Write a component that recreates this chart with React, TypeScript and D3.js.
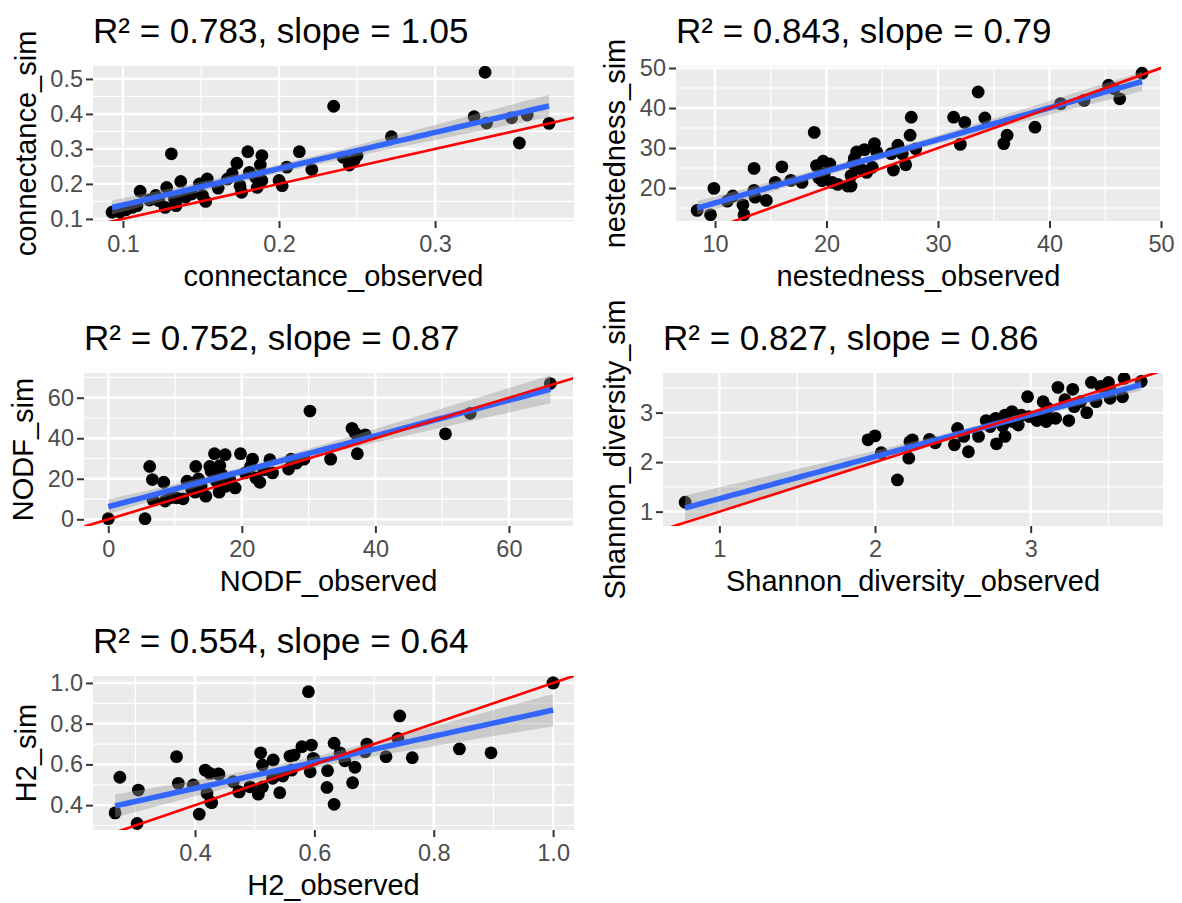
import React, { useEffect, useRef } from 'react';
import * as d3 from 'd3';

// ---- data ----
const connectanceObserved = [
  0.093, 0.098, 0.102, 0.106, 0.109, 0.111, 0.117, 0.121, 0.123, 0.127, 0.128, 0.131, 0.133,
  0.134, 0.137, 0.14, 0.144, 0.149, 0.151, 0.153, 0.154, 0.161, 0.167, 0.17, 0.173, 0.175,
  0.176, 0.18, 0.181, 0.185, 0.186, 0.188, 0.189, 0.189, 0.2, 0.202, 0.205, 0.213, 0.221,
  0.235, 0.241, 0.245, 0.248, 0.25, 0.272, 0.325, 0.332, 0.333, 0.349, 0.354, 0.359, 0.373,
];
const connectanceSim = [
  0.119, 0.119, 0.126, 0.133, 0.138, 0.179, 0.154, 0.167, 0.152, 0.133, 0.19, 0.286, 0.157,
  0.138, 0.207, 0.162, 0.171, 0.2, 0.167, 0.15, 0.214, 0.188, 0.214, 0.229, 0.259, 0.195,
  0.176, 0.292, 0.233, 0.219, 0.19, 0.254, 0.281, 0.21, 0.21, 0.195, 0.248, 0.292, 0.241,
  0.422, 0.276, 0.254, 0.267, 0.281, 0.335, 0.392, 0.519, 0.374, 0.389, 0.317, 0.397, 0.373,
];

const nestednessObserved = [
  8.4, 9.6, 9.9, 11.1, 11.6, 12.5, 12.6, 13.5, 13.5, 13.6, 14.6, 15.4, 16.0, 16.8, 17.8, 18.9,
  19.1, 19.3, 19.7, 19.6, 19.8, 20.3, 20.5, 21.0, 21.9, 22.2, 22.2, 22.4, 22.5, 22.7, 23.1, 23.4,
  23.6, 24.1, 24.3, 24.5, 25.8, 26.0, 26.4, 26.8, 27.1, 27.5, 27.6, 28.0, 31.4, 32.0, 32.4, 33.6,
  34.2, 35.9, 36.2, 38.7, 41.0, 43.1, 45.3, 45.8, 46.3, 48.3,
];
const nestednessSim = [
  14.4, 13.3, 19.9, 16.7, 18.0, 15.8, 13.3, 24.9, 19.4, 17.7, 16.9, 21.4, 25.3, 21.9, 21.4, 33.9,
  25.6, 22.6, 26.7, 21.8, 23.5, 26.0, 21.4, 20.9, 20.5, 20.5, 23.1, 26.0, 27.4, 29.0, 24.7, 29.6,
  23.9, 25.2, 31.1, 29.0, 28.6, 24.5, 30.7, 28.6, 25.8, 33.2, 37.7, 29.8, 37.7, 30.9, 36.4, 44.0,
  37.5, 31.1, 33.2, 35.2, 41.1, 41.9, 45.7, 44.8, 42.3, 48.7,
];

const nodfObserved = [
  0, 5.5, 6.2, 6.6, 6.7, 8.3, 8.5, 9.3, 10.2, 11.2, 11.8, 12.5, 13.0, 13.1, 13.5, 13.9, 14.6,
  15.2, 15.4, 15.9, 16.2, 16.6, 16.7, 17.0, 17.5, 17.6, 18.2, 19.0, 19.8, 20.5, 21.3, 21.6, 22.1,
  22.7, 23.3, 24.2, 24.6, 27.0, 27.4, 28.2, 29.3, 30.2, 33.3, 36.5, 37.0, 37.3, 38.5, 50.5, 54.2,
  66.2,
];
const nodfSim = [
  0.3, 0.3, 26.1, 19.6, 9.5, 18.3, 9.0, 10.6, 10.6, 10.1, 18.8, 14.7, 13.4, 26.1, 19.9, 16.3, 11.4,
  26.1, 23.7, 32.4, 18.8, 13.4, 26.5, 22.1, 31.9, 16.3, 19.6, 15.5, 32.4, 22.9, 26.1, 29.7, 20.4,
  18.3, 24.5, 29.4, 22.9, 24.8, 29.7, 27.8, 29.7, 53.4, 29.7, 44.9, 42.5, 32.4, 41.7, 42.2, 52.3,
  67.0,
];

const shannonObserved = [
  0.78, 1.955, 2.0, 2.04, 2.144, 2.217, 2.224, 2.24, 2.35, 2.387, 2.51, 2.53, 2.57, 2.6, 2.665,
  2.714, 2.74, 2.775, 2.78, 2.82, 2.835, 2.835, 2.88, 2.884, 2.92, 2.94, 2.98, 2.99, 3.04, 3.08,
  3.09, 3.1, 3.11, 3.16, 3.175, 3.22, 3.245, 3.27, 3.28, 3.32, 3.36, 3.39, 3.42, 3.45, 3.5, 3.51,
  3.51, 3.59, 3.6, 3.71,
];
const shannonSim = [
  1.19, 2.45, 2.53, 2.19, 1.64, 2.08, 2.41, 2.45, 2.46, 2.39, 2.35, 2.68, 2.52, 2.21, 2.52, 2.84,
  2.72, 2.885, 2.37, 2.73, 2.52, 2.95, 3.02, 2.82, 2.75, 2.95, 3.32, 2.92, 2.84, 3.22, 2.95, 2.82,
  3.09, 2.885, 3.51, 3.26, 2.84, 3.47, 3.12, 3.22, 3.0, 3.61, 3.22, 3.53, 3.61, 3.29, 3.46, 3.32,
  3.69, 3.63,
];

// two networks sit on top of each other at (1, 1)
const h2Observed = [
  0.266, 0.274, 0.305, 0.303, 0.369, 0.372, 0.397, 0.407, 0.417, 0.425, 0.439, 0.42, 0.428, 0.426,
  0.44, 0.464, 0.473, 0.474, 0.492, 0.506, 0.51, 0.513, 0.513, 0.531, 0.53, 0.542, 0.547, 0.559,
  0.566, 0.562, 0.579, 0.59, 0.593, 0.595, 0.598, 0.6, 0.622, 0.621, 0.633, 0.633, 0.643, 0.651,
  0.664, 0.668, 0.685, 0.688, 0.72, 0.74, 0.743, 0.764, 0.843, 0.896, 1.0, 1.0,
];
const h2Sim = [
  0.362, 0.537, 0.474, 0.31, 0.638, 0.507, 0.499, 0.356, 0.572, 0.556, 0.553, 0.458, 0.412, 0.416,
  0.552, 0.515, 0.466, 0.465, 0.49, 0.454, 0.657, 0.597, 0.49, 0.622, 0.532, 0.461, 0.543, 0.641,
  0.646, 0.572, 0.687, 0.957, 0.564, 0.695, 0.63, 0.624, 0.569, 0.487, 0.704, 0.404, 0.657, 0.618,
  0.51, 0.586, 0.662, 0.7, 0.638, 0.728, 0.838, 0.633, 0.676, 0.657, 1.0, 1.0,
];

const titles = [
  'R² = 0.783, slope = 1.05',
  'R² = 0.843, slope = 0.79',
  'R² = 0.752, slope = 0.87',
  'R² = 0.827, slope = 0.86',
  'R² = 0.554, slope = 0.64',
];

const FONT = '"Liberation Sans", Arial, Helvetica, sans-serif';

type Panel = {
  title: string;
  xLabel: string;
  yLabel: string;
  obs: number[];
  sim: number[];
  box: [number, number, number, number];
  xDomain: [number, number];
  yDomain: [number, number];
  xTicks: number[];
  yTicks: number[];
  xMinor: number[];
  yMinor: number[];
  fmt: (d: number) => string;
};

const f1 = d3.format('.1f');
const fi = d3.format('d');

const panels: Panel[] = [
  {
    title: titles[0], xLabel: 'connectance_observed', yLabel: 'connectance_sim',
    obs: connectanceObserved, sim: connectanceSim,
    box: [93, 66, 574, 221], xDomain: [0.0808, 0.389], yDomain: [0.094, 0.537],
    xTicks: [0.1, 0.2, 0.3], yTicks: [0.1, 0.2, 0.3, 0.4, 0.5],
    xMinor: [0.15, 0.25, 0.35], yMinor: [0.15, 0.25, 0.35, 0.45], fmt: f1,
  },
  {
    title: titles[1], xLabel: 'nestedness_observed', yLabel: 'nestedness_sim',
    obs: nestednessObserved, sim: nestednessSim,
    box: [676, 66, 1161, 221], xDomain: [6.5, 50.0], yDomain: [11.75, 50.5],
    xTicks: [10, 20, 30, 40, 50], yTicks: [20, 30, 40, 50],
    xMinor: [15, 25, 35, 45], yMinor: [15, 25, 35, 45], fmt: fi,
  },
  {
    title: titles[2], xLabel: 'NODF_observed', yLabel: 'NODF_sim',
    obs: nodfObserved, sim: nodfSim,
    box: [84, 373, 573, 526], xDomain: [-3.64, 69.6], yDomain: [-3.3, 72.2],
    xTicks: [0, 20, 40, 60], yTicks: [0, 20, 40, 60],
    xMinor: [10, 30, 50], yMinor: [10, 30, 50, 70], fmt: fi,
  },
  {
    title: titles[3], xLabel: 'Shannon_diversity_observed', yLabel: 'Shannon_diversity_sim',
    obs: shannonObserved, sim: shannonSim,
    box: [663, 373, 1163, 526], xDomain: [0.638, 3.85], yDomain: [0.71, 3.8],
    xTicks: [1, 2, 3], yTicks: [1, 2, 3],
    xMinor: [1.5, 2.5, 3.5], yMinor: [1.5, 2.5, 3.5], fmt: fi,
  },
  {
    title: titles[4], xLabel: 'H2_observed', yLabel: 'H2_sim',
    obs: h2Observed, sim: h2Sim,
    box: [93, 676, 574, 830], xDomain: [0.229, 1.035], yDomain: [0.278, 1.034],
    xTicks: [0.4, 0.6, 0.8, 1.0], yTicks: [0.4, 0.6, 0.8, 1.0],
    xMinor: [0.3, 0.5, 0.7, 0.9], yMinor: [0.3, 0.5, 0.7, 0.9], fmt: f1,
  },
];

// ordinary least squares with a 95% confidence band, like geom_smooth(method = "lm")
function fitLm(xs: number[], ys: number[]) {
  const n = xs.length;
  const mx = d3.mean(xs) as number;
  const my = d3.mean(ys) as number;
  let sxx = 0;
  let sxy = 0;
  xs.forEach((x, i) => {
    sxx += (x - mx) ** 2;
    sxy += (x - mx) * (ys[i] - my);
  });
  const b = sxy / sxx;
  const a = my - b * mx;
  let sse = 0;
  xs.forEach((x, i) => {
    sse += (ys[i] - a - b * x) ** 2;
  });
  const s = Math.sqrt(sse / (n - 2));
  const t = 1.96 + 2.4 / (n - 2);
  const [x0, x1] = d3.extent(xs) as [number, number];
  return d3.range(80).map((i) => {
    const x = x0 + ((x1 - x0) * i) / 79;
    const y = a + b * x;
    const se = s * Math.sqrt(1 / n + (x - mx) ** 2 / sxx);
    return { x, y, lo: y - t * se, hi: y + t * se };
  });
}

function drawPanel(svg: any, p: Panel, idx: number) {
  const [x0, y0, x1, y1] = p.box;
  const xs = d3.scaleLinear().domain(p.xDomain).range([x0, x1]);
  const ys = d3.scaleLinear().domain(p.yDomain).range([y1, y0]);
  const g = svg.append('g');
  const clipId = `clip-${idx}`;

  g.append('clipPath')
    .attr('id', clipId)
    .append('rect')
    .attr('x', x0)
    .attr('y', y0)
    .attr('width', x1 - x0)
    .attr('height', y1 - y0);

  g.append('rect')
    .attr('x', x0)
    .attr('y', y0)
    .attr('width', x1 - x0)
    .attr('height', y1 - y0)
    .attr('fill', '#EBEBEB');

  const grid = g.append('g').attr('stroke', '#fff');
  grid.selectAll('.vmin').data(p.xMinor).join('line').attr('class', 'vmin')
    .attr('x1', (d: number) => xs(d)).attr('x2', (d: number) => xs(d))
    .attr('y1', y0).attr('y2', y1).attr('stroke-width', 1.2);
  grid.selectAll('.hmin').data(p.yMinor).join('line').attr('class', 'hmin')
    .attr('y1', (d: number) => ys(d)).attr('y2', (d: number) => ys(d))
    .attr('x1', x0).attr('x2', x1).attr('stroke-width', 1.2);
  grid.selectAll('.vmaj').data(p.xTicks).join('line').attr('class', 'vmaj')
    .attr('x1', (d: number) => xs(d)).attr('x2', (d: number) => xs(d))
    .attr('y1', y0).attr('y2', y1).attr('stroke-width', 2.4);
  grid.selectAll('.hmaj').data(p.yTicks).join('line').attr('class', 'hmaj')
    .attr('y1', (d: number) => ys(d)).attr('y2', (d: number) => ys(d))
    .attr('x1', x0).attr('x2', x1).attr('stroke-width', 2.4);

  const body = g.append('g').attr('clip-path', `url(#${clipId})`);

  body.selectAll('circle')
    .data(p.obs.map((x, i) => [x, p.sim[i]]))
    .join('circle')
    .attr('cx', (d: number[]) => xs(d[0]))
    .attr('cy', (d: number[]) => ys(d[1]))
    .attr('r', 6.4)
    .attr('fill', '#000');

  const fit = fitLm(p.obs, p.sim);
  body.append('path')
    .datum(fit)
    .attr('d', d3.area<any>().x((d) => xs(d.x)).y0((d) => ys(d.lo)).y1((d) => ys(d.hi)))
    .attr('fill', '#999999')
    .attr('fill-opacity', 0.4);
  body.append('path')
    .datum(fit)
    .attr('d', d3.line<any>().x((d) => xs(d.x)).y((d) => ys(d.y)))
    .attr('fill', 'none')
    .attr('stroke', '#3366FF')
    .attr('stroke-width', 5.5);

  const lo = Math.min(p.xDomain[0], p.yDomain[0]);
  const hi = Math.max(p.xDomain[1], p.yDomain[1]);
  body.append('line')
    .attr('x1', xs(lo)).attr('y1', ys(lo))
    .attr('x2', xs(hi)).attr('y2', ys(hi))
    .attr('stroke', '#FF0000')
    .attr('stroke-width', 2.6);

  const styleAxis = (a: any) => {
    a.select('.domain').remove();
    a.selectAll('.tick line').attr('stroke', '#333333').attr('stroke-width', 2);
    a.selectAll('text')
      .attr('fill', '#4D4D4D')
      .style('font-family', FONT)
      .style('font-size', '23.5px');
  };

  const xa = g.append('g')
    .attr('transform', `translate(0,${y1})`)
    .call(d3.axisBottom(xs).tickValues(p.xTicks).tickFormat(p.fmt as any).tickSize(7).tickPadding(7));
  styleAxis(xa);

  const ya = g.append('g')
    .attr('transform', `translate(${x0},0)`)
    .call(d3.axisLeft(ys).tickValues(p.yTicks).tickFormat(p.fmt as any).tickSize(7).tickPadding(3));
  styleAxis(ya);

  const labelW = d3.max(ya.selectAll('text').nodes(), (n: any) => n.getComputedTextLength()) as number;

  g.append('text')
    .attr('x', (x0 + x1) / 2)
    .attr('y', y1 + 65)
    .attr('text-anchor', 'middle')
    .style('font-family', FONT)
    .style('font-size', '29px')
    .attr('fill', '#000')
    .text(p.xLabel);

  const yTitleX = x0 - 10 - labelW - 14.5;
  g.append('text')
    .attr('transform', `translate(${yTitleX},${(y0 + y1) / 2}) rotate(-90)`)
    .attr('text-anchor', 'middle')
    .style('font-family', FONT)
    .style('font-size', '29px')
    .attr('fill', '#000')
    .text(p.yLabel);

  g.append('text')
    .attr('x', x0)
    .attr('y', y0 - 23)
    .style('font-family', FONT)
    .style('font-size', '35px')
    .attr('fill', '#000')
    .text(p.title);
}

export default function App() {
  const svgRef = useRef<SVGSVGElement>(null);

  useEffect(() => {
    const svg = d3.select(svgRef.current);
    svg.selectAll('*').remove();
    panels.forEach((p, i) => drawPanel(svg, p, i));
  }, []);

  return (
    <div style={{ position: 'absolute', left: 0, top: 0 }}>
      <svg ref={svgRef} width={1182} height={903} style={{ display: 'block', background: '#fff' }} />
    </div>
  );
}
